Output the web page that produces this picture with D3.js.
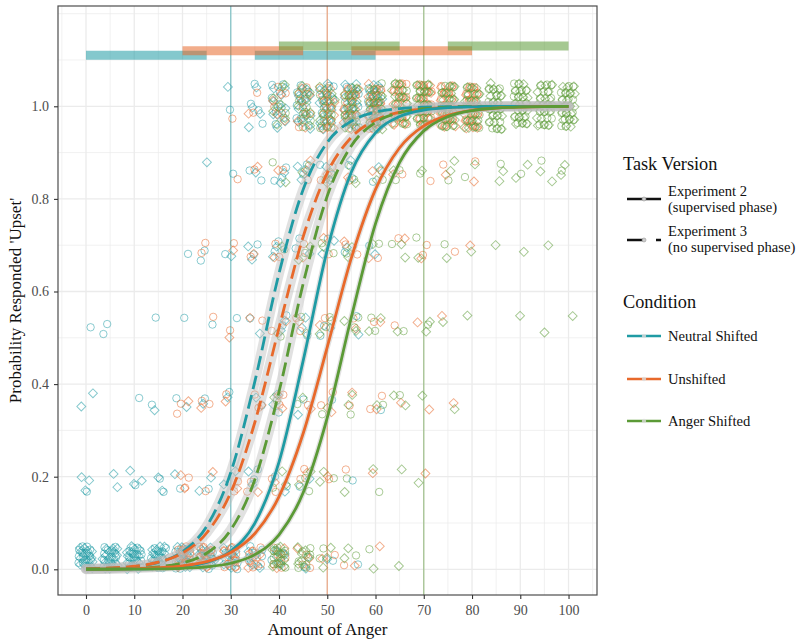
<!DOCTYPE html>
<html><head><meta charset="utf-8">
<script src="https://cdn.jsdelivr.net/npm/d3@7/dist/d3.min.js"></script>
<style>body{margin:0;background:#fff}svg{display:block}</style>
</head><body><svg id="c" width="800" height="644"></svg>
<script>
// ---------- data ----------
const levels = [0,5,10,15,20,25,30,35,40,45,50,55,60,65,70,75,80,85,90,95,100];
const xTicks = [0,10,20,30,40,50,60,70,80,90,100];
const yTicks = [0,0.2,0.4,0.6,0.8,1.0];
const conditions = ["Neutral Shifted","Unshifted","Anger Shifted"];
const condColors = ["#1f9ba4","#e8692b","#5b9a36"];
const tasks = ["Experiment 2","Experiment 3"];
const taskSub = ["(supervised phase)","(no supervised phase)"];
const boundaries = [30,50,70];

// ranges shown as bars above the data
const barCond  = [0,0,1,1,2,2];
const barStart = [0,35,20,55,40,75];
const barEnd   = [25,60,45,80,65,100];
const barLevel = [1.11,1.11,1.12,1.12,1.13,1.13];

// fitted curves (probability at each level)
const fitExp2Neutral   = [0.0001,0.0003,0.0008,0.0020,0.0055,0.0148,0.0392,0.0998,0.2315,0.4502,0.6900,0.8581,0.9427,0.9781,0.9918,0.9970,0.9989,0.9996,0.9998,0.9999,1];
const fitExp2Unshifted = [0.0003,0.0007,0.0015,0.0034,0.0075,0.0166,0.0363,0.0773,0.1571,0.2932,0.4800,0.6726,0.8205,0.9105,0.9577,0.9805,0.9912,0.9960,0.9982,0.9992,0.9996];
const fitExp2Anger     = [0.0001,0.0001,0.0004,0.0009,0.0022,0.0054,0.0131,0.0317,0.0745,0.1652,0.3274,0.5449,0.7465,0.8787,0.9469,0.9777,0.9908,0.9962,0.9985,0.9994,0.9997];
const fitExp3Neutral   = [0.0009,0.0023,0.0059,0.0150,0.0380,0.0928,0.2090,0.4060,0.6390,0.8200,0.9220,0.9680,0.9876,0.9951,0.9981,0.9993,0.9997,0.9999,1,1,1];
const fitExp3Unshifted = [0.0012,0.0028,0.0066,0.0153,0.0351,0.0784,0.1660,0.3176,0.5212,0.7181,0.8563,0.9331,0.9702,0.9871,0.9944,0.9976,0.9990,0.9996,0.9998,0.9999,1];
const fitExp3Anger     = [0.0003,0.0008,0.0021,0.0054,0.0137,0.0347,0.0851,0.1939,0.3834,0.6166,0.8061,0.9149,0.9653,0.9863,0.9947,0.9979,0.9992,0.9997,0.9999,1,1];

// participants answering 'upset' on none of the trials, per level
const lowNeutral2   = [15,15,15,15,12,11,8,6,4,2,1,1,0,0,0,0,0,0,0,0,0];
const lowNeutral3   = [16,16,16,16,13,11,7,5,3,1,1,0,0,0,0,0,0,0,0,0,0];
const lowUnshifted2 = [0,0,0,0,9,9,9,7,5,3,1,1,0,0,0,0,0,0,0,0,0];
const lowUnshifted3 = [0,0,0,0,8,7,6,5,3,2,1,1,1,0,0,0,0,0,0,0,0];
const lowAnger2     = [0,0,0,0,0,0,0,0,9,6,2,1,1,0,0,0,0,0,0,0,0];
const lowAnger3     = [0,0,0,0,0,0,0,0,11,7,3,2,1,1,0,0,0,0,0,0,0];
// participants answering 'upset' on all trials, per level
const highNeutral2   = [0,0,0,0,0,0,1,4,8,10,11,12,12,0,0,0,0,0,0,0,0];
const highNeutral3   = [0,0,0,0,0,0,1,4,10,12,13,14,14,0,0,0,0,0,0,0,0];
const highUnshifted2 = [0,0,0,0,0,0,1,2,4,5,7,9,11,13,14,14,14,0,0,0,0];
const highUnshifted3 = [0,0,0,0,0,0,0,1,4,6,9,11,13,14,15,15,15,0,0,0,0];
const highAnger2     = [0,0,0,0,0,0,0,0,3,6,8,10,12,14,16,18,18,18,18,18,18];
const highAnger3     = [0,0,0,0,0,0,0,0,6,9,11,14,15,16,18,19,19,19,19,19,19];
// intermediate responses: [level, sixths answered 'upset']
const midNeutral2 = [[0,3],[0,1],[5,3],[5,3],[10,2],[10,1],[15,3],[15,2],[15,1],[15,1],[20,1],[20,2],[20,4],[20,3],[25,4],[25,4],[25,3],[25,1],[25,2],[30,4],[30,3],[30,5],[30,2],[35,5],[35,5],[35,4],[35,4],[35,3],[35,2],[35,1],[35,1],[40,5],[40,5],[40,5],[40,4],[40,4],[40,3],[40,3],[40,2],[40,1],[40,1],[45,5],[45,5],[45,4],[45,4],[45,3],[45,2],[45,1],[50,5],[50,5],[50,4],[50,3],[50,3],[50,2],[55,5],[55,5],[55,4],[55,3],[55,1],[60,5],[60,4],[60,2]];
const midNeutral3 = [[0,2],[0,2],[0,1],[0,1],[0,1],[5,1],[5,1],[10,1],[10,1],[10,1],[15,1],[15,1],[15,2],[20,1],[20,2],[25,5],[25,2],[25,1],[25,1],[30,4],[30,2],[30,1],[30,1],[35,5],[35,4],[35,4],[35,3],[35,2],[35,1],[35,1],[40,5],[40,5],[40,4],[40,4],[40,3],[40,3],[40,2],[40,2],[40,1],[45,5],[45,5],[45,5],[45,4],[45,3],[45,3],[45,2],[45,1],[50,5],[50,5],[50,4],[50,4],[50,3],[55,5],[55,4],[55,3],[60,5],[60,4]];
const midUnshifted2 = [[20,2],[20,2],[20,1],[20,1],[25,4],[25,4],[25,3],[25,2],[25,1],[25,2],[30,5],[30,4],[30,3],[30,2],[30,1],[30,1],[35,5],[35,4],[35,3],[35,2],[35,2],[35,1],[35,1],[40,5],[40,4],[40,4],[40,3],[40,2],[40,2],[40,1],[40,1],[45,5],[45,4],[45,3],[45,3],[45,2],[45,1],[45,1],[50,5],[50,5],[50,4],[50,3],[50,2],[50,2],[50,1],[55,5],[55,4],[55,4],[55,3],[55,2],[55,1],[60,5],[60,4],[60,3],[60,2],[60,2],[65,5],[65,4],[65,3],[70,5],[70,4],[70,4],[75,5],[75,4],[80,5]];
const midUnshifted3 = [[20,2],[20,1],[20,1],[25,2],[25,1],[30,4],[30,3],[30,2],[30,1],[35,5],[35,4],[35,3],[35,2],[35,1],[40,5],[40,4],[40,3],[40,2],[40,2],[40,1],[45,5],[45,5],[45,4],[45,3],[45,2],[45,1],[50,5],[50,4],[50,3],[50,2],[50,1],[55,5],[55,4],[55,3],[55,2],[60,5],[60,4],[60,3],[60,2],[60,1],[65,5],[65,4],[65,2],[70,4],[70,3],[70,2],[70,1],[75,5],[75,3],[75,2],[80,5],[80,4]];
const midAnger2 = [[40,5],[40,4],[40,3],[40,2],[40,1],[45,5],[45,4],[45,3],[45,2],[45,1],[45,1],[50,5],[50,4],[50,4],[50,3],[50,3],[50,2],[50,1],[55,5],[55,5],[55,4],[55,3],[55,3],[55,2],[55,1],[60,5],[60,4],[60,3],[60,3],[60,2],[60,1],[65,5],[65,5],[65,4],[65,3],[65,2],[70,5],[70,4],[70,3],[75,5],[75,4],[80,5],[85,5],[90,5],[95,5],[100,5]];
const midAnger3 = [[40,5],[40,4],[40,3],[40,2],[40,1],[40,1],[45,5],[45,4],[45,4],[45,3],[45,2],[45,1],[45,1],[50,5],[50,5],[50,4],[50,3],[50,3],[50,2],[50,1],[50,1],[55,5],[55,4],[55,4],[55,3],[55,3],[55,2],[55,2],[55,1],[60,5],[60,5],[60,4],[60,3],[60,3],[60,2],[60,1],[65,5],[65,4],[65,4],[65,3],[65,2],[65,2],[65,1],[70,5],[70,4],[70,3],[70,3],[70,2],[70,1],[75,5],[75,5],[75,4],[75,3],[75,2],[80,5],[80,4],[80,3],[85,5],[85,5],[85,4],[90,5],[90,5],[90,4],[90,3],[95,5],[95,5],[95,4],[95,3],[100,5],[100,5],[100,3]];

// ---------- drawing ----------
const svg = d3.select("#c");
const serif = "'Liberation Serif','Times New Roman',serif";
const L = 58, R = 597, T = 6, B = 595;
const x = d3.scaleLinear().domain([-5.8, 105.9]).range([L, R]);
const y = d3.scaleLinear().domain([-0.0555, 1.2166]).range([B, T]);

svg.append("rect").attr("width",800).attr("height",644).attr("fill","#fff");
const gridC = "#ebebeb";
const grid = svg.append("g");
[-5,5,15,25,35,45,55,65,75,85,95,105].forEach(v=>{
  grid.append("line").attr("x1",x(v)).attr("x2",x(v)).attr("y1",T).attr("y2",B).attr("stroke",gridC).attr("stroke-width",0.7);
});
[0.1,0.3,0.5,0.7,0.9,1.1,1.2].forEach(v=>{
  grid.append("line").attr("y1",y(v)).attr("y2",y(v)).attr("x1",L).attr("x2",R).attr("stroke",gridC).attr("stroke-width",0.7);
});
xTicks.forEach(v=>{
  grid.append("line").attr("x1",x(v)).attr("x2",x(v)).attr("y1",T).attr("y2",B).attr("stroke",gridC).attr("stroke-width",1.3);
});
yTicks.forEach(v=>{
  grid.append("line").attr("y1",y(v)).attr("y2",y(v)).attr("x1",L).attr("x2",R).attr("stroke",gridC).attr("stroke-width",1.3);
});

// points
const groups = [
  {c:0,e:0,low:lowNeutral2,high:highNeutral2,mid:midNeutral2},
  {c:0,e:1,low:lowNeutral3,high:highNeutral3,mid:midNeutral3},
  {c:1,e:0,low:lowUnshifted2,high:highUnshifted2,mid:midUnshifted2},
  {c:1,e:1,low:lowUnshifted3,high:highUnshifted3,mid:midUnshifted3},
  {c:2,e:0,low:lowAnger2,high:highAnger2,mid:midAnger2},
  {c:2,e:1,low:lowAnger3,high:highAnger3,mid:midAnger3}
];
const pts = [];
groups.forEach(g=>{
  levels.forEach((lv,i)=>{
    for(let n=0;n<g.low[i];n++) pts.push({c:g.c,e:g.e,x:lv,y:0});
    for(let n=0;n<g.high[i];n++) pts.push({c:g.c,e:g.e,x:lv,y:1});
  });
  g.mid.forEach(([lv,k])=>pts.push({c:g.c,e:g.e,x:lv,y:k/6}));
});
// deterministic (quasi-uniform) jitter for display
pts.forEach((p,i)=>{
  const u = ((i+1)*0.7548776662)%1, v = ((i+1)*0.5698402910)%1;
  p.px = x(p.x + (u*2-1)*1.6);
  p.py = y(p.y + (p.y===1 ? (v*2-1)*0.05 : v*0.05));
});
const diamond = d3.symbol(d3.symbolSquare, 40)();
const pg = svg.append("g").attr("fill","none").attr("stroke-width",0.95);
pts.forEach(p=>{
  if(p.e===0){
    pg.append("circle").attr("cx",p.px).attr("cy",p.py).attr("r",3.7)
      .attr("stroke",condColors[p.c]).attr("stroke-opacity",0.55);
  } else {
    pg.append("path").attr("d",diamond)
      .attr("transform",`translate(${p.px},${p.py}) rotate(45)`)
      .attr("stroke",condColors[p.c]).attr("stroke-opacity",0.55);
  }
});

// category boundaries
boundaries.forEach((b,i)=>{
  svg.append("line").attr("x1",x(b)).attr("x2",x(b)).attr("y1",T).attr("y2",B)
    .attr("stroke",condColors[i]).attr("stroke-opacity",0.5).attr("stroke-width",1.3);
});

// fitted curves
const fits = [
  {v:fitExp3Neutral,c:0,e:1},{v:fitExp3Unshifted,c:1,e:1},{v:fitExp3Anger,c:2,e:1},
  {v:fitExp2Neutral,c:0,e:0},{v:fitExp2Unshifted,c:1,e:0},{v:fitExp2Anger,c:2,e:0}
];
const line = d3.line().x(d=>x(d[0])).y(d=>y(d[1])).curve(d3.curveMonotoneX);
fits.forEach(f=>{
  svg.append("path").attr("d",line(levels.map((l,i)=>[l,f.v[i]])))
    .attr("fill","none").attr("stroke","#bdbdbd").attr("stroke-opacity",0.45)
    .attr("stroke-width", f.e===1 ? 10 : 5.5).attr("stroke-linecap","round");
});
fits.forEach(f=>{
  svg.append("path").attr("d",line(levels.map((l,i)=>[l,f.v[i]])))
    .attr("fill","none").attr("stroke",condColors[f.c])
    .attr("stroke-width",2.8)
    .attr("stroke-dasharray", f.e===1 ? "14,6" : null);
});

// range bars
barCond.forEach((c,i)=>{
  svg.append("line").attr("x1",x(barStart[i])).attr("x2",x(barEnd[i]))
    .attr("y1",y(barLevel[i])).attr("y2",y(barLevel[i]))
    .attr("stroke",condColors[c]).attr("stroke-opacity",0.55).attr("stroke-width",9);
});

// panel border
svg.append("rect").attr("x",L).attr("y",T).attr("width",R-L).attr("height",B-T)
  .attr("fill","none").attr("stroke","#4d4d4d").attr("stroke-width",1.2);

// axes
const ax = svg.append("g").attr("transform",`translate(0,${B})`)
  .call(d3.axisBottom(x).tickValues(xTicks).tickSize(4).tickPadding(6).tickFormat(d3.format("d")));
const ay = svg.append("g").attr("transform",`translate(${L},0)`)
  .call(d3.axisLeft(y).tickValues(yTicks).tickSize(4).tickPadding(5).tickFormat(d3.format(".1f")));
[ax,ay].forEach(a=>{
  a.select(".domain").remove();
  a.selectAll(".tick line").attr("stroke","#333").attr("stroke-width",1.1);
  a.selectAll(".tick text").attr("fill","#4d4d4d").style("font-family",serif).style("font-size","14px");
});

svg.append("text").attr("x",(L+R)/2).attr("y",635).attr("text-anchor","middle")
  .style("font-family",serif).style("font-size","17px").attr("fill","#111").text("Amount of Anger");
svg.append("text").attr("transform",`translate(21,${(T+B)/2}) rotate(-90)`).attr("text-anchor","middle")
  .style("font-family",serif).style("font-size","17px").attr("fill","#111").text("Probability Responded 'Upset'");

// legend: task version
const lg = svg.append("g").style("font-family",serif).attr("fill","#111");
lg.append("text").attr("x",623).attr("y",170).style("font-size","18.3px").text("Task Version");
const taskKeyY = [199,240], taskTextY = [196,236];
tasks.forEach((t,i)=>{
  lg.append("line").attr("x1",627).attr("x2",661).attr("y1",taskKeyY[i]).attr("y2",taskKeyY[i])
    .attr("stroke","#111").attr("stroke-width",2.6).attr("stroke-dasharray", i===1 ? "16,13" : null);
  lg.append("circle").attr("cx",644).attr("cy",taskKeyY[i]).attr("r",2).attr("fill","#ccc").attr("stroke","#999").attr("stroke-width",0.6);
  lg.append("text").attr("x",668).attr("y",taskTextY[i]).style("font-size","14.6px").text(t);
  lg.append("text").attr("x",668).attr("y",taskTextY[i]+16).style("font-size","14.6px").text(taskSub[i]);
});
lg.append("text").attr("x",623).attr("y",308).style("font-size","18.3px").text("Condition");
const condKeyY = [336,379,421];
conditions.forEach((c,i)=>{
  lg.append("line").attr("x1",627).attr("x2",661).attr("y1",condKeyY[i]).attr("y2",condKeyY[i])
    .attr("stroke",condColors[i]).attr("stroke-width",2.6);
  lg.append("circle").attr("cx",644).attr("cy",condKeyY[i]).attr("r",2.2).attr("fill","#ddd").attr("fill-opacity",0.8);
  lg.append("text").attr("x",668).attr("y",condKeyY[i]+5).style("font-size","14.6px").text(c);
});
</script></body></html>
